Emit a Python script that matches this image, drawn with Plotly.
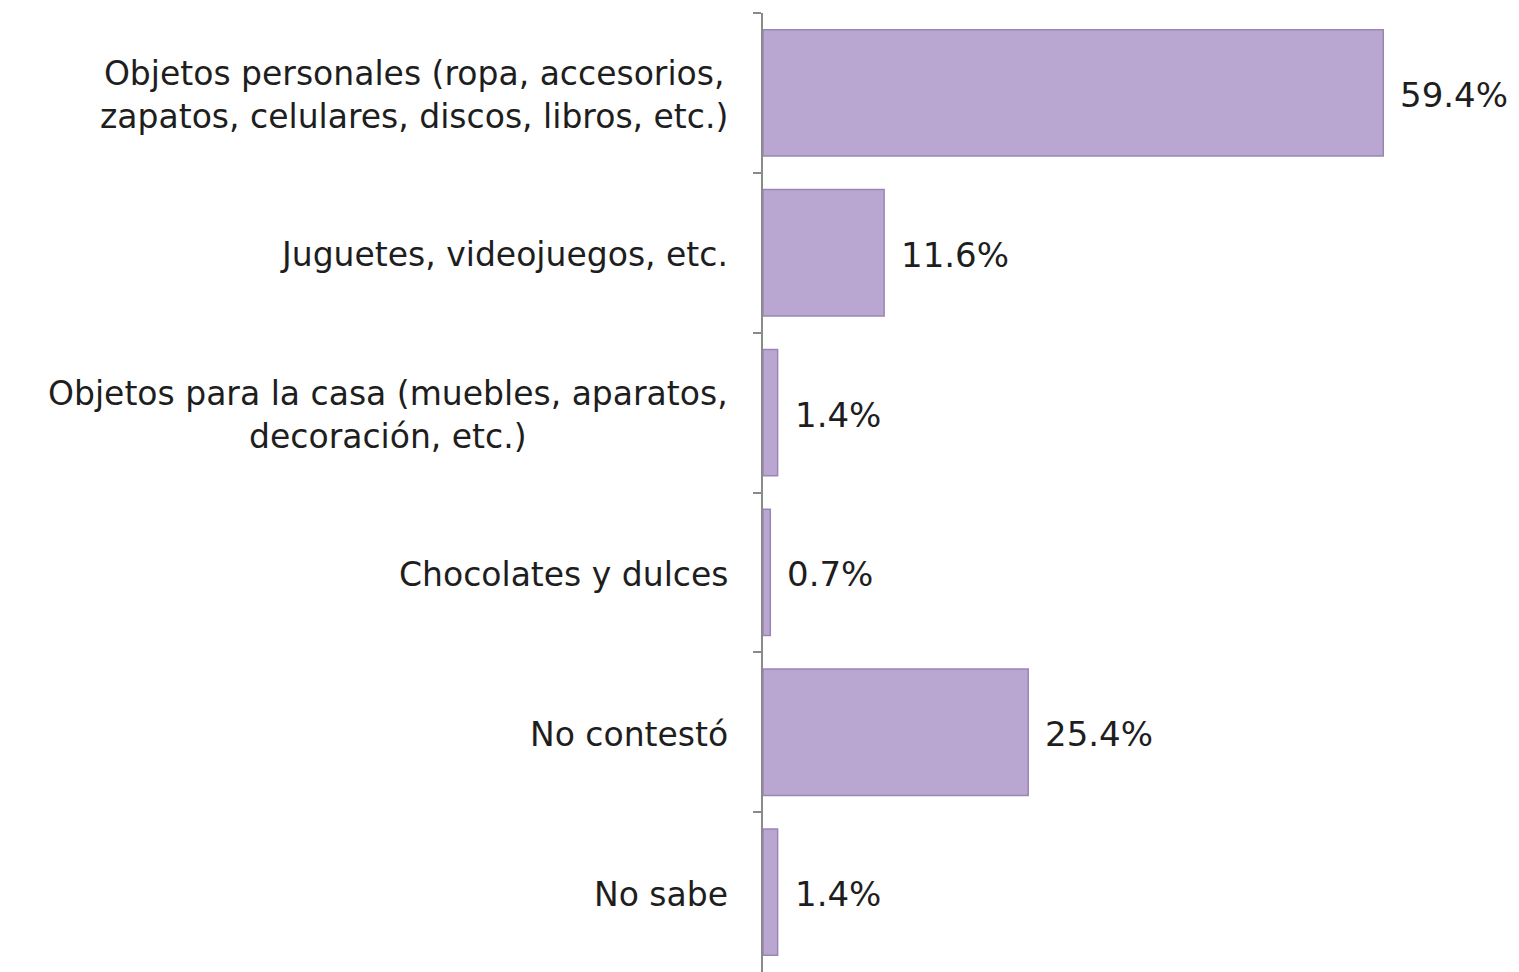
import plotly.graph_objects as go

categories = [
    "Objetos personales (ropa, accesorios,<br>zapatos, celulares, discos, libros, etc.)",
    "Juguetes, videojuegos, etc.",
    "Objetos para la casa (muebles, aparatos,<br>decoración, etc.)",
    "Chocolates y dulces",
    "No contestó",
    "No sabe",
]
values = [59.4, 11.6, 1.4, 0.7, 25.4, 1.4]
value_labels = ["59.4%", "11.6%", "1.4%", "0.7%", "25.4%", "1.4%"]

FONT = "DejaVu Sans, Verdana, sans-serif"
BAR_COLOR = "#B9A7D1"
EDGE_COLOR = "#9A86B3"

fig = go.Figure()
fig.add_trace(go.Bar(
    x=values,
    y=categories,
    orientation="h",
    width=0.79,
    marker=dict(color=BAR_COLOR, line=dict(color=EDGE_COLOR, width=1.5)),
    hoverinfo="skip",
))

annotations = []
for cat, val, lab in zip(categories, values, value_labels):
    annotations.append(dict(
        x=val, y=cat, xref="x", yref="y", text=lab, showarrow=False,
        xanchor="left", yanchor="middle", xshift=15, yshift=-2,
        font=dict(family=FONT, size=34, color="#1e1e1e"),
    ))
    annotations.append(dict(
        x=0, y=cat, xref="paper", yref="y", text=cat, showarrow=False,
        xanchor="right", yanchor="middle", xshift=-33, yshift=-2, align="center",
        font=dict(family=FONT, size=33, color="#1e1e1e"),
    ))

fig.update_layout(
    width=1519, height=972,
    margin=dict(l=763, r=0, t=13, b=0),
    paper_bgcolor="white", plot_bgcolor="white",
    showlegend=False,
    annotations=annotations,
    xaxis=dict(range=[0, 72.4], visible=False, fixedrange=True),
    yaxis=dict(
        autorange="reversed",
        showticklabels=False,
        showline=True, linecolor="#8a8a8a", linewidth=1.5,
        ticks="outside", ticklen=8, tickcolor="#8a8a8a", tickwidth=1.5,
        tickson="boundaries",
        showgrid=False, zeroline=False, fixedrange=True,
    ),
)

fig.write_html(
    "out.html",
    config={"displayModeBar": False},
    post_script="document.body.style.margin='0';document.body.style.overflow='hidden';",
)
